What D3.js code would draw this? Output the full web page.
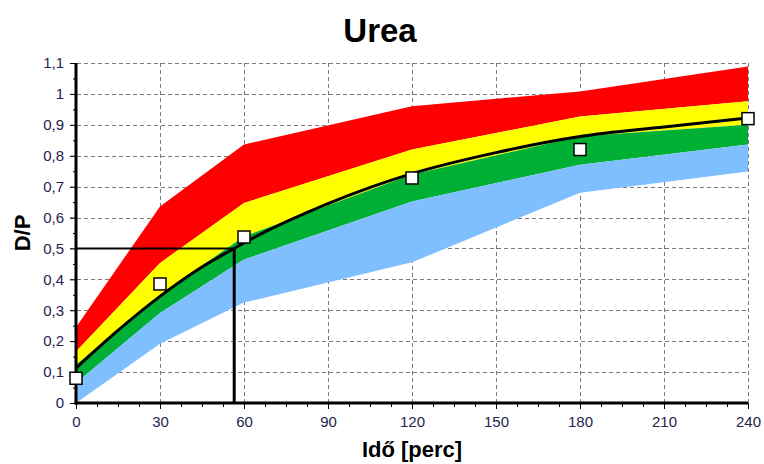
<!DOCTYPE html>
<html>
<head>
<meta charset="utf-8">
<script src="https://cdn.jsdelivr.net/npm/d3@7"></script>
<style>
  body { margin: 0; background: #fff; }
  text { font-family: 'Liberation Sans', Arial, sans-serif; }
</style>
</head>
<body>
<div id="chart"></div>
<script>
// DATA
let bandTimes = [0, 30, 60, 120, 180, 240]
let blueLow = [0, 0.192, 0.325, 0.455, 0.68, 0.749]
let blueHigh = [0.065, 0.291, 0.464, 0.652, 0.771, 0.836]
let greenHigh = [0.124, 0.35, 0.539, 0.739, 0.863, 0.9]
let yellowHigh = [0.167, 0.453, 0.647, 0.82, 0.927, 0.976]
let redHigh = [0.245, 0.636, 0.836, 0.96, 1.008, 1.089]

let curveTimes = [0, 15, 30, 45, 56.5, 60, 90, 120, 150, 180, 210, 240]
let curveValues = [0.113, 0.235, 0.345, 0.44, 0.5, 0.518, 0.645, 0.742, 0.81, 0.862, 0.893, 0.922]

let sampleTimes = [0, 30, 60, 120, 180, 240]
let sampleValues = [0.08, 0.385, 0.537, 0.728, 0.82, 0.92]

let crossPoint = [56.5, 0.5]

let xTicks = [0, 30, 60, 90, 120, 150, 180, 210, 240]
let yTicks = [0, 0.1, 0.2, 0.3, 0.4, 0.5, 0.6, 0.7, 0.8, 0.9, 1, 1.1]

let title = 'Urea'
let xTitle = 'Idő [perc]'
let yTitle = 'D/P'

let width = 764
let height = 464
let margin = { top: 63, right: 16, bottom: 61, left: 76 }

let svg = d3.select('#chart').append('svg')
  .attr('width', width)
  .attr('height', height)

let x = d3.scaleLinear().domain([0, 240]).range([0, 672])
let y = d3.scaleLinear().domain([0, 1.1]).range([340, 0])

let g = svg.append('g')
  .attr('transform', translation(margin.left, margin.top))

// GRID
g.append('g').selectAll('line')
  .data(xTicks.slice(1))
  .enter().append('line')
  .attr('x1', function (d) { return Math.round(x(d)) + 0.5 })
  .attr('x2', function (d) { return Math.round(x(d)) + 0.5 })
  .attr('y1', y(1.1))
  .attr('y2', y(0) + 6)
  .attr('stroke', '#7a7a7a')
  .attr('stroke-dasharray', '4,3')

g.append('g').selectAll('line')
  .data(yTicks.slice(1))
  .enter().append('line')
  .attr('x1', -6)
  .attr('x2', x(240))
  .attr('y1', function (d) { return Math.round(y(d)) + 0.5 })
  .attr('y2', function (d) { return Math.round(y(d)) + 0.5 })
  .attr('stroke', '#7a7a7a')
  .attr('stroke-dasharray', '4,3')

// BANDS
let bands = [
  { low: yellowHigh, high: redHigh, color: '#ff0000' },
  { low: greenHigh, high: yellowHigh, color: '#ffff00' },
  { low: blueHigh, high: greenHigh, color: '#00b034' },
  { low: blueLow, high: blueHigh, color: '#80bfff' }
]

bands.forEach(function (b) {
  let area = d3.area()
    .x(function (d, i) { return x(bandTimes[i]) })
    .y0(function (d, i) { return y(b.low[i]) })
    .y1(function (d, i) { return y(b.high[i]) })
  g.append('path')
    .datum(bandTimes)
    .attr('d', area)
    .attr('fill', b.color)
})

// CROSSHAIR
g.append('path')
  .attr('d', 'M0,' + y(crossPoint[1]) + 'H' + x(crossPoint[0]))
  .attr('stroke', '#000')
  .attr('stroke-width', 2)
g.append('path')
  .attr('d', 'M' + x(crossPoint[0]) + ',' + y(crossPoint[1]) + 'V' + y(0))
  .attr('stroke', '#000')
  .attr('stroke-width', 3)

// FITTED CURVE
let line = d3.line()
  .x(function (d, i) { return x(curveTimes[i]) })
  .y(function (d) { return y(d) })
  .curve(d3.curveMonotoneX)

g.append('path')
  .datum(curveValues)
  .attr('d', line)
  .attr('fill', 'none')
  .attr('stroke', '#000')
  .attr('stroke-width', 3)

// AXES
let xAxis = d3.axisBottom(x)
  .tickValues(xTicks)
  .tickSize(6)
  .tickPadding(7)
  .tickFormat(function (d) { return d })

let xMinor = d3.axisBottom(x)
  .tickValues(d3.range(0, 241, 7.5))
  .tickSize(4)
  .tickFormat('')

let fmt = function (d) { return String(Math.round(d * 10) / 10).replace('.', ',') }

let yAxis = d3.axisLeft(y)
  .tickValues(yTicks)
  .tickSize(6)
  .tickPadding(6)
  .tickFormat(fmt)

let yMinor = d3.axisLeft(y)
  .tickValues(d3.range(0.05, 1.1, 0.1))
  .tickSize(3)
  .tickFormat('')

g.append('g')
  .attr('transform', translation(0, y(0)))
  .call(xMinor)
  .call(styleAxis)

g.append('g')
  .attr('transform', translation(0, y(0)))
  .call(xAxis)
  .call(styleAxis)

g.append('g').call(yMinor).call(styleAxis)
g.append('g').call(yAxis).call(styleAxis)

// axis lines
g.append('line')
  .attr('x1', 0).attr('x2', 0)
  .attr('y1', y(1.1)).attr('y2', y(0) + 1.5)
  .attr('stroke', '#000').attr('stroke-width', 3)
g.append('line')
  .attr('x1', -1.5).attr('x2', x(240))
  .attr('y1', y(0)).attr('y2', y(0))
  .attr('stroke', '#000').attr('stroke-width', 3)

// SAMPLE MARKERS
g.append('g').selectAll('rect')
  .data(sampleValues)
  .enter().append('rect')
  .attr('x', function (d, i) { return x(sampleTimes[i]) - 6 })
  .attr('y', function (d) { return y(d) - 6 })
  .attr('width', 12)
  .attr('height', 12)
  .attr('fill', '#fff')
  .attr('stroke', '#000')
  .attr('stroke-width', 1.5)

// TITLES
svg.append('text')
  .attr('x', 380)
  .attr('y', 42)
  .attr('text-anchor', 'middle')
  .attr('font-size', 33)
  .attr('font-weight', 'bold')
  .text(title)

svg.append('text')
  .attr('x', 412)
  .attr('y', 457)
  .attr('text-anchor', 'middle')
  .attr('font-size', 22)
  .attr('font-weight', 'bold')
  .text(xTitle)

svg.append('text')
  .attr('transform', translation(30, 233) + ' rotate(-90)')
  .attr('text-anchor', 'middle')
  .attr('font-size', 22)
  .attr('font-weight', 'bold')
  .text(yTitle)

function styleAxis (sel) {
  sel.select('.domain').remove()
  sel.selectAll('.tick line').attr('stroke', '#000')
  sel.selectAll('.tick text')
    .attr('font-size', 15)
    .attr('fill', '#24244f')
}

function translation (a, b) {
  return 'translate(' + a + ',' + b + ')'
}
</script>
</body>
</html>
